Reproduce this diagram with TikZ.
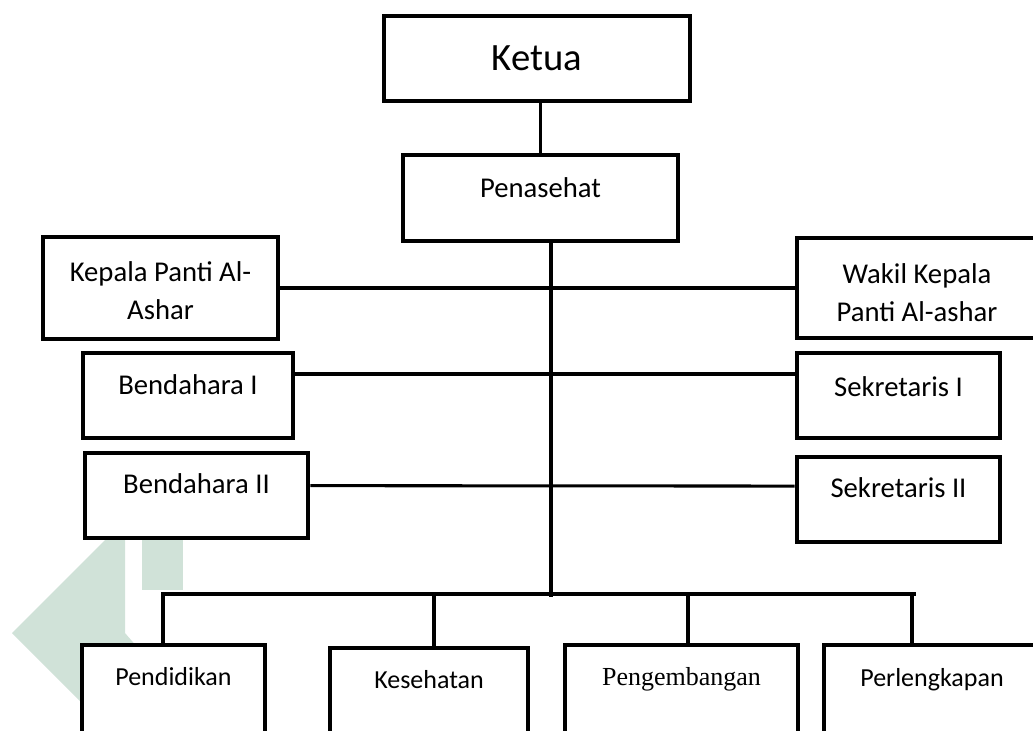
\documentclass[tikz,border=0pt]{standalone}
\usepackage{fontspec}
\setmainfont{Carlito}
\newfontfamily\serifalt{Liberation Serif}
\usepackage{xcolor}
\usepackage{tikz}
\usetikzlibrary{positioning,fit,calc}
\definecolor{markgreen}{HTML}{D0E2D8}

\begin{document}
\begin{tikzpicture}[
  x=0.75pt,
  y=-0.75pt,
  unit/.style={rectangle, draw=black, fill=white, line width=3.4pt, inner sep=0pt},
  link/.style={draw=black, line width=2.3pt},
  mid/.style={font=\fontsize{21.5}{28.5}\selectfont, align=center},
  low/.style={font=\fontsize{19.5}{24}\selectfont},
  every label/.style={inner sep=0pt}
]
\useasboundingbox (0,0) rectangle (1033,731);
\clip (0,0) rectangle (1033,731);
\fill[white] (0,0) rectangle (1033,731);

% watermark in the lower left corner
\fill[markgreen] (12,633) -- (106,539) -- (125,539) -- (125,633) -- (138,648)
  -- (138,731) -- (110,731) -- cycle;
\fill[markgreen] (142,540) rectangle (183,590);

% boxes
\node[unit, fit={(384,16) (690,101)},
  label={[font=\fontsize{29}{34}\selectfont]center:Ketua}] (ketua) {};
\node[unit, fit={(403,155) (678,241)},
  label={[mid, yshift=8pt]center:Penasehat}] (pen) {};
\node[unit, fit={(43,237) (278,339)},
  label={[mid, yshift=-2pt]center:Kepala Panti Al-\\Ashar}] (kepala) {};
\node[unit, fit={(797,238) (1037,338)},
  label={[mid, yshift=-3.4pt]center:Wakil Kepala\\Panti Al-ashar}] (wakil) {};
\node[unit, fit={(83,353) (293,438)},
  label={[mid, yshift=8pt]center:Bendahara I}] (bend1) {};
\node[unit, fit={(797,353) (1000,438)},
  label={[mid, yshift=7pt]center:Sekretaris I}] (sek1) {};
\node[unit, fit={(85,453) (308,538)},
  label={[mid, yshift=8.6pt]center:Bendahara II}] (bend2) {};
\node[unit, fit={(797,457) (1000,542)},
  label={[mid, yshift=9pt]center:Sekretaris II}] (sek2) {};

\node[unit, fit={(82,645) (265,745)},
  label={[low, yshift=13.9pt]center:Pendidikan}] (pend) {};
\node[unit, fit={(330,648) (528,745)},
  label={[low, yshift=12.4pt]center:Kesehatan}] (kes) {};
\node[unit, fit={(565,645) (798,745)},
  label={[low, font=\serifalt\fontsize{19.5}{24}\selectfont, yshift=11.5pt]center:Pengembangan}] (peng) {};
\node[unit, fit={(824,645) (1040,745)},
  label={[low, yshift=11.5pt]center:Perlengkapan}] (perl) {};

% trunk and bus
\coordinate (trunkend) at (551,597);
\coordinate (b1) at (163,594);
\coordinate (b2) at (434,594);
\coordinate (b3) at (688,594);
\coordinate (b4) at (912,594);
\coordinate (busend) at (916,594);

\draw[link] (pen.north) -- (pen.north |- ketua.south);
\draw[link] (pen.south -| trunkend) -- (trunkend);

\draw[link] (kepala.east) -- (wakil.west);
\draw[link] ($(bend1.north east)!0.26!(bend1.south east)$) -- ($(sek1.north west)!0.26!(sek1.south west)$);
\draw[link] ($(bend2.north east)!0.39!(bend2.south east)$) -- ($(sek2.north west)!0.35!(sek2.south west)$);

\draw[link] (b1 |- pend.north) -- (b1) -- (busend);
\draw[link] (b2) -- (b2 |- kes.north);
\draw[link] (b3) -- (b3 |- peng.north);
\draw[link] (b4) -- (b4 |- perl.north);
\end{tikzpicture}
\end{document}
